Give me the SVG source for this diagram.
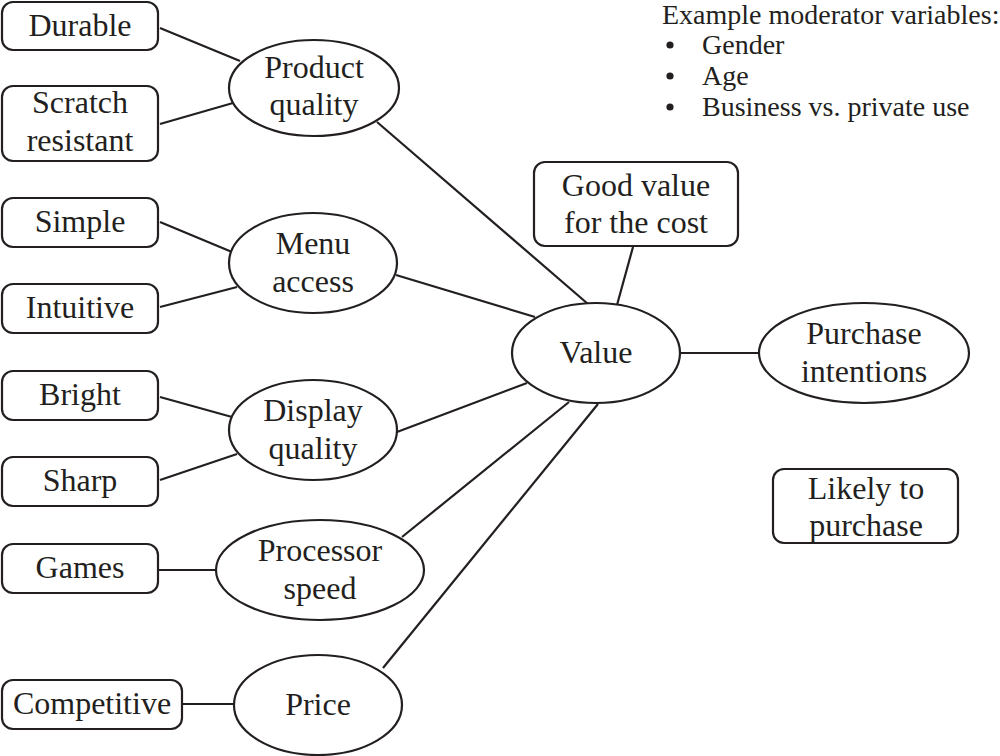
<svg xmlns="http://www.w3.org/2000/svg" width="1000" height="756" viewBox="0 0 1000 756">
<style>
.box{fill:#fff;stroke:#231f20;stroke-width:2.2}
.ell{fill:#fff;stroke:#231f20;stroke-width:2.2}
.ln{stroke:#231f20;stroke-width:2.2;fill:none}
text{font-family:"Liberation Serif","Times New Roman",serif;font-size:32px;fill:#231f20;text-anchor:middle}
.note{font-size:28px;text-anchor:start}
</style>
<rect width="1000" height="756" fill="#fff"/>
<g id="connectors">
<line class="ln" x1="160" y1="28" x2="240" y2="61"/>
<line class="ln" x1="160" y1="124" x2="233" y2="103"/>
<line class="ln" x1="377" y1="122" x2="588" y2="304"/>
<line class="ln" x1="633" y1="247" x2="617" y2="305"/>
<line class="ln" x1="160" y1="222" x2="232" y2="252"/>
<line class="ln" x1="160" y1="307" x2="237" y2="287"/>
<line class="ln" x1="396" y1="275" x2="535" y2="317"/>
<line class="ln" x1="160" y1="397" x2="232" y2="417"/>
<line class="ln" x1="160" y1="480" x2="237" y2="454"/>
<line class="ln" x1="397" y1="432" x2="527" y2="383"/>
<line class="ln" x1="402" y1="537" x2="569" y2="402"/>
<line class="ln" x1="383" y1="668" x2="598" y2="404"/>
<line class="ln" x1="159" y1="570" x2="216" y2="570"/>
<line class="ln" x1="182" y1="704" x2="234" y2="704"/>
<line class="ln" x1="681" y1="353" x2="759" y2="353"/>
</g>
<g id="durable"><rect class="box" x="2" y="2" width="156" height="48" rx="11"/><text x="80" y="36">Durable</text></g>
<g id="scratch"><rect class="box" x="2" y="86" width="156" height="75" rx="11"/><text x="80" y="113">Scratch</text><text x="80" y="151">resistant</text></g>
<g id="simple"><rect class="box" x="2" y="198" width="156" height="49" rx="11"/><text x="80" y="232">Simple</text></g>
<g id="intuitive"><rect class="box" x="2" y="284" width="156" height="49" rx="11"/><text x="80" y="318">Intuitive</text></g>
<g id="bright"><rect class="box" x="2" y="371" width="156" height="49" rx="11"/><text x="80" y="405">Bright</text></g>
<g id="sharp"><rect class="box" x="2" y="457" width="156" height="49" rx="11"/><text x="80" y="491">Sharp</text></g>
<g id="games"><rect class="box" x="2" y="544" width="156" height="49" rx="11"/><text x="80" y="578">Games</text></g>
<g id="competitive"><rect class="box" x="2" y="680" width="180" height="49" rx="11"/><text x="92" y="714">Competitive</text></g>
<g id="product-quality"><ellipse class="ell" cx="314" cy="88" rx="85" ry="48"/><text x="314" y="78">Product</text><text x="314" y="115">quality</text></g>
<g id="menu-access"><ellipse class="ell" cx="313" cy="263" rx="84" ry="50"/><text x="313" y="254">Menu</text><text x="313" y="292">access</text></g>
<g id="display-quality"><ellipse class="ell" cx="313" cy="430" rx="84" ry="50"/><text x="313" y="421">Display</text><text x="313" y="459">quality</text></g>
<g id="processor-speed"><ellipse class="ell" cx="320" cy="570" rx="104" ry="50"/><text x="320" y="561">Processor</text><text x="320" y="599">speed</text></g>
<g id="price"><ellipse class="ell" cx="318" cy="705" rx="84" ry="50"/><text x="318" y="715">Price</text></g>
<g id="value"><ellipse class="ell" cx="596" cy="353" rx="84" ry="50"/><text x="596" y="363">Value</text></g>
<g id="purchase-intentions"><ellipse class="ell" cx="864" cy="353" rx="105" ry="50"/><text x="864" y="344">Purchase</text><text x="864" y="382">intentions</text></g>
<g id="good-value"><rect class="box" x="534" y="162" width="204" height="84" rx="11"/><text x="636" y="196">Good value</text><text x="636" y="233">for the cost</text></g>
<g id="likely"><rect class="box" x="773" y="469" width="185" height="74" rx="11"/><text x="866" y="499">Likely to</text><text x="866" y="536">purchase</text></g>
<g id="moderators">
<text class="note" x="662" y="24">Example moderator variables:</text>
<circle cx="670" cy="45" r="3.6" fill="#231f20"/>
<circle cx="670" cy="76" r="3.6" fill="#231f20"/>
<circle cx="670" cy="107" r="3.6" fill="#231f20"/>
<text class="note" x="702" y="54">Gender</text>
<text class="note" x="702" y="85">Age</text>
<text class="note" x="702" y="116">Business vs. private use</text>
</g>
</svg>
